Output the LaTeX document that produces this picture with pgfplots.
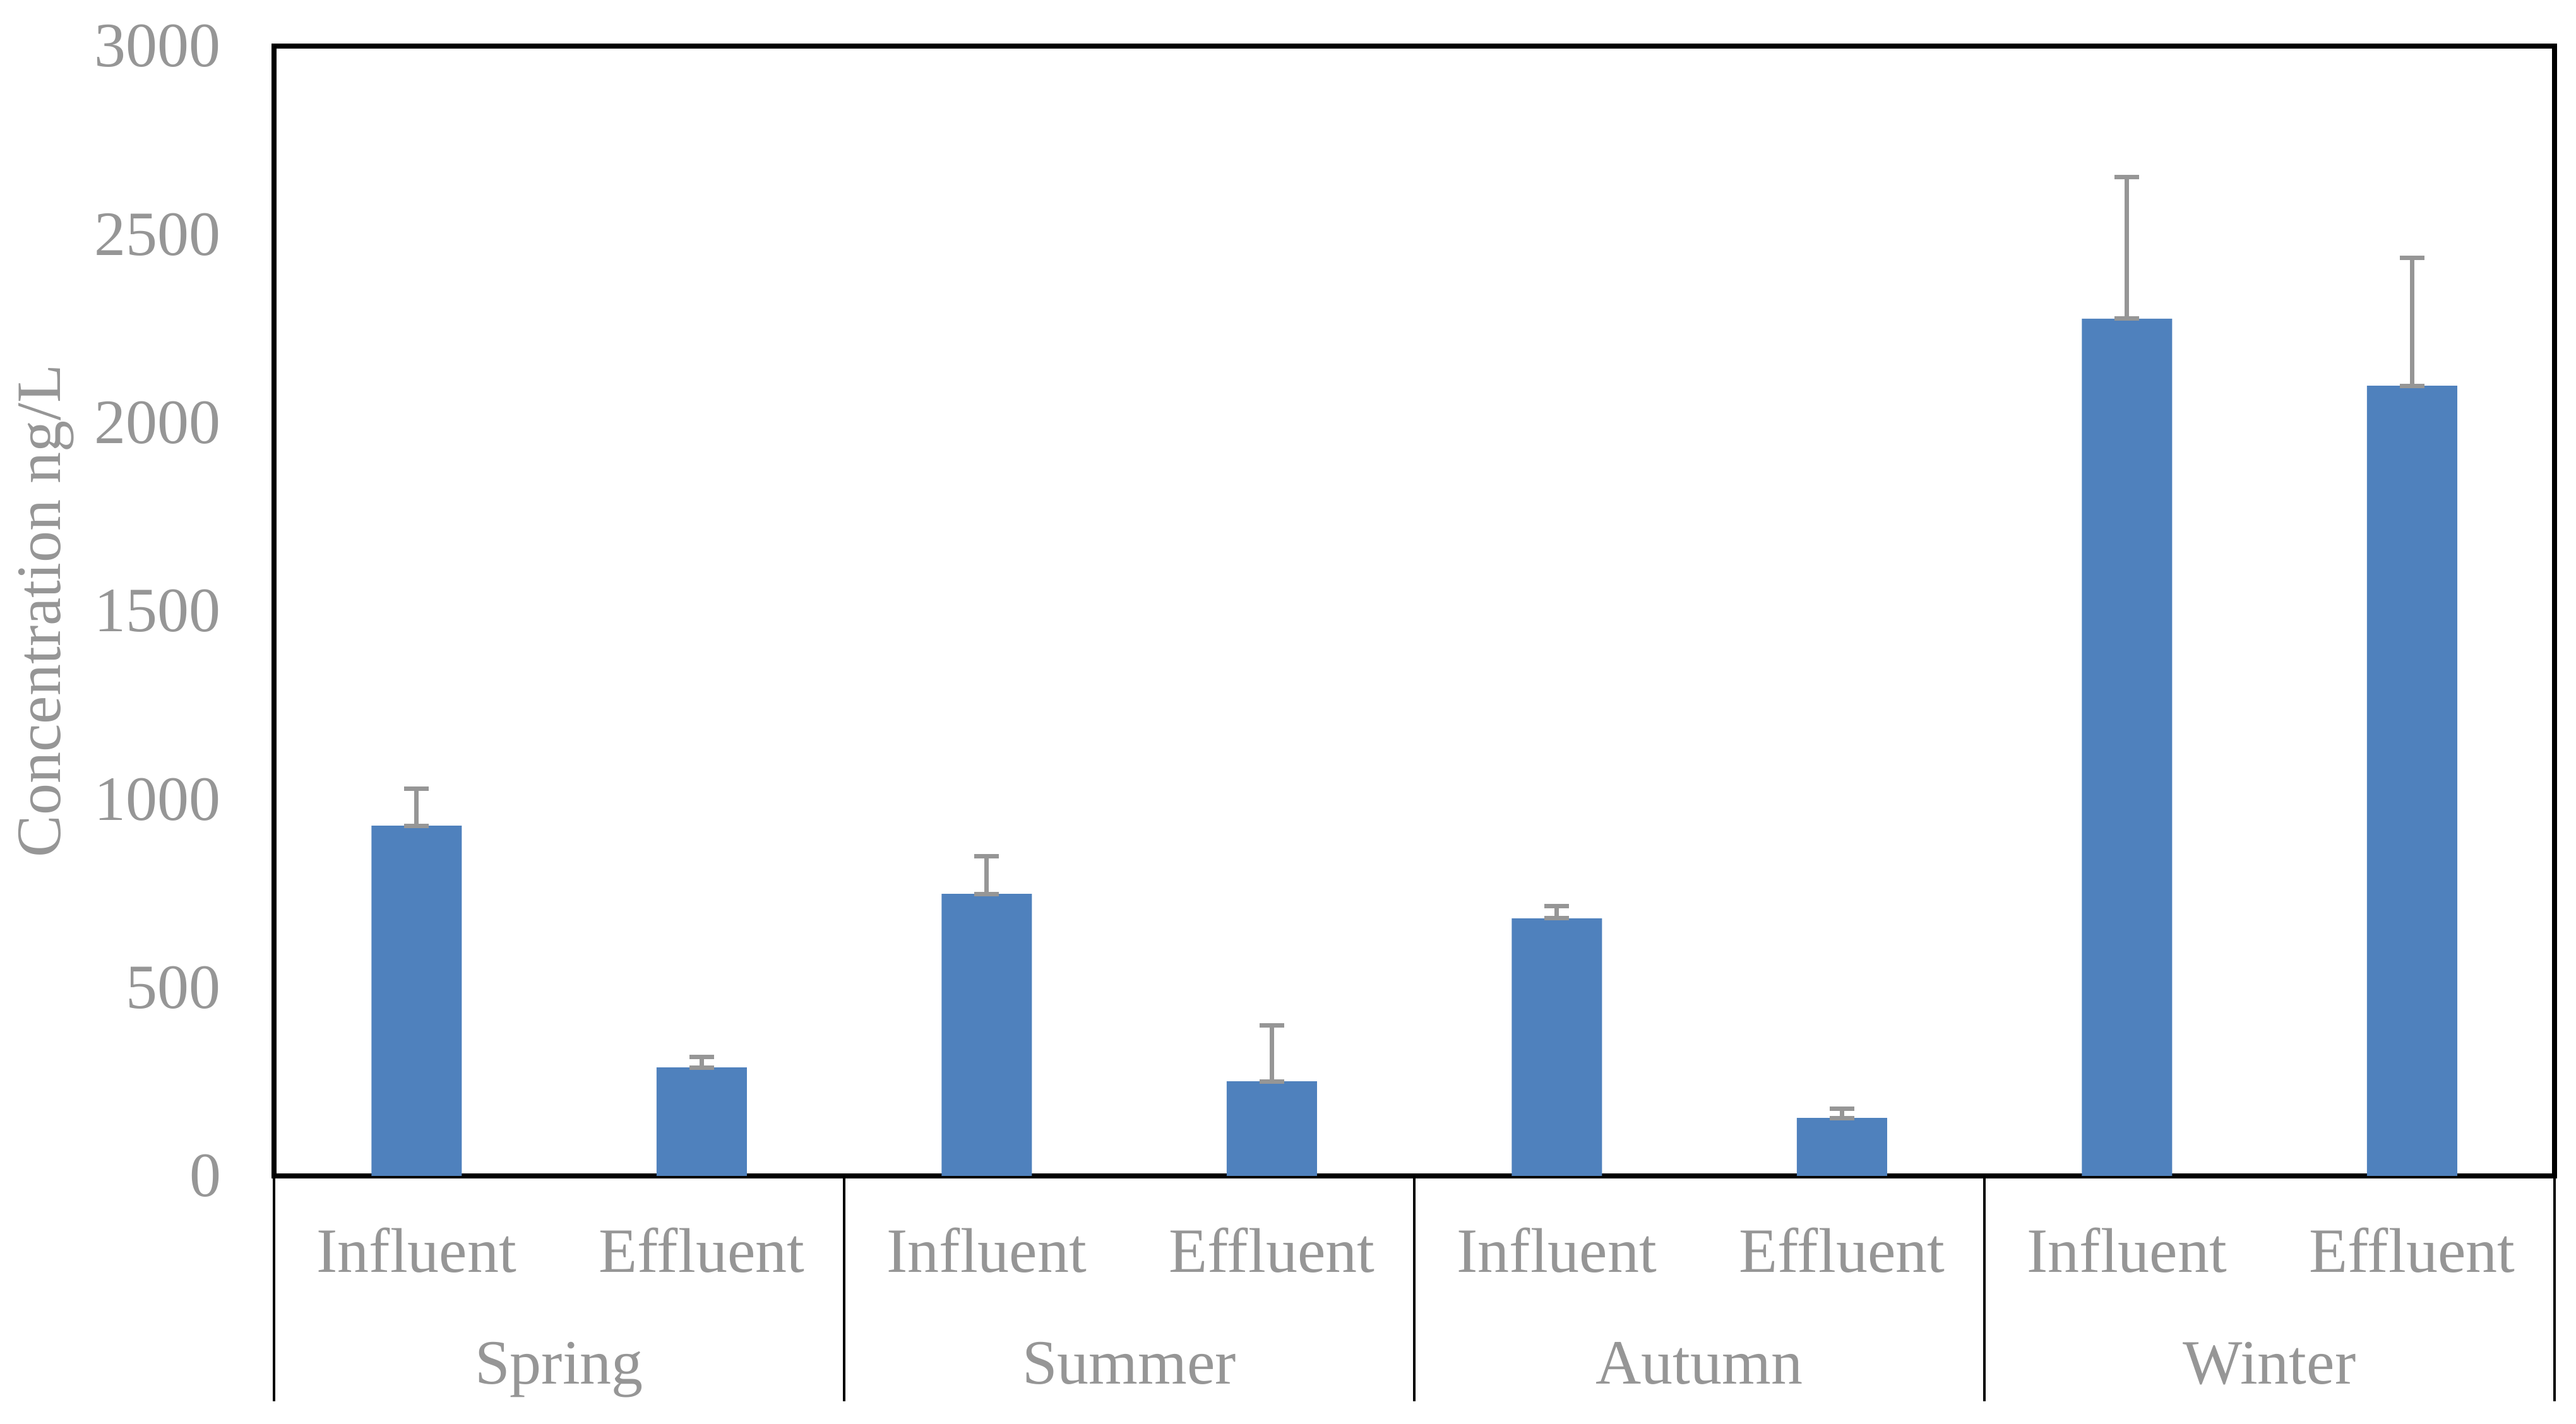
\documentclass[border=0pt]{standalone}
\usepackage{fontspec}
\setmainfont{Liberation Serif}
\usepackage{pgfplots}
\pgfplotsset{compat=1.18}
\definecolor{barblue}{RGB}{79,129,189}
\definecolor{errgray}{RGB}{150,150,150}
\definecolor{txtgray}{RGB}{150,150,150}
\begin{document}
\fontsize{20}{24}\selectfont
\begin{tikzpicture}
\path[use as bounding box] (0,0) rectangle (816pt,451.2pt);
\begin{axis}[
  at={(86.8pt,78.6pt)}, anchor=south west,
  scale only axis, width=722.4pt, height=358pt,
  xmin=0, xmax=8, ymin=0, ymax=3000,
  axis line style={black, line width=1.5pt},
  xtick={0.5,1.5,2.5,3.5,4.5,5.5,6.5,7.5},
  xticklabels={Influent,Effluent,Influent,Effluent,Influent,Effluent,Influent,Effluent},
  major tick length=0pt,
  xticklabel style={anchor=base, yshift=-30.5pt, inner sep=0pt, text=txtgray, font=\fontsize{20}{24}\selectfont},
  ytick={0,500,1000,1500,2000,2500,3000},
  yticklabel style={anchor=east, inner sep=0pt, xshift=-16.6pt, text=txtgray, font=\fontsize{20}{24}\selectfont},
  /pgf/number format/assume math mode=true,
  /pgf/number format/1000 sep={},
  ylabel={Concentration ng/L},
  every axis y label/.style={at={(rel axis cs:0,0.5)}, rotate=90, anchor=center, yshift=72.2pt, text=txtgray, font=\fontsize{20}{24}\selectfont},
  extra x ticks={0,2,4,6,8},
  extra x tick labels={},
  extra x tick style={major tick length=71.4pt, tick align=outside, tick pos=bottom, tick style={black, line width=0.9pt}},
  clip=false,
]
\addplot[ybar, bar width=28.6pt, fill=barblue, draw=none,
  error bars/.cd, y dir=both, y explicit,
  error bar style={draw=errgray, line width=1.4pt},
  error mark options={draw=errgray, line width=1.4pt, mark size=3.9pt, rotate=90}]
coordinates {
  (0.5,930)  +=(0,99)  -=(0,0)
  (1.5,288)  +=(0,28)  -=(0,0)
  (2.5,749)  +=(0,100) -=(0,0)
  (3.5,251)  +=(0,148) -=(0,0)
  (4.5,684)  +=(0,33)  -=(0,0)
  (5.5,154)  +=(0,24)  -=(0,0)
  (6.5,2276) +=(0,377) -=(0,0)
  (7.5,2098) +=(0,339) -=(0,0)
};
\node[anchor=base, inner sep=0pt, text=txtgray, yshift=-66pt] at (axis cs:1,0) {Spring};
\node[anchor=base, inner sep=0pt, text=txtgray, yshift=-66pt] at (axis cs:3,0) {Summer};
\node[anchor=base, inner sep=0pt, text=txtgray, yshift=-66pt] at (axis cs:5,0) {Autumn};
\node[anchor=base, inner sep=0pt, text=txtgray, yshift=-66pt] at (axis cs:7,0) {Winter};
\end{axis}
\end{tikzpicture}
\end{document}
